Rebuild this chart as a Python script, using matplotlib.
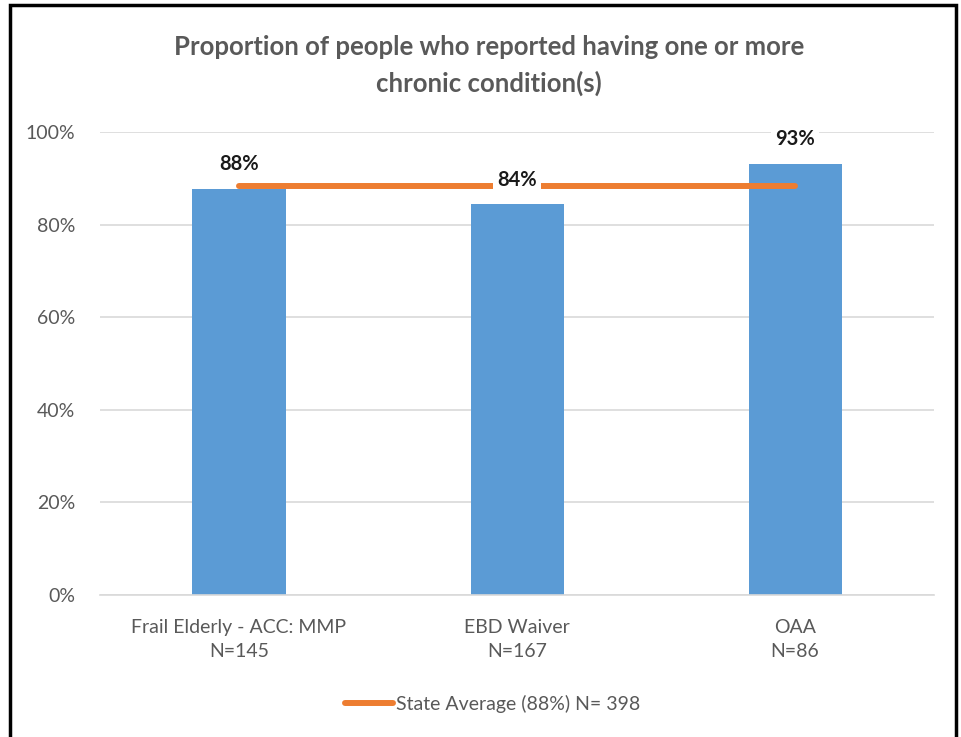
import matplotlib
matplotlib.use('Agg')
import matplotlib.pyplot as plt
from matplotlib.patches import Rectangle
from matplotlib.ticker import PercentFormatter

plt.rcParams['font.family'] = ['Lato', 'DejaVu Sans']

# ========== 数据 ==========
categories = ['Frail Elderly - ACC: MMP\nN=145', 'EBD Waiver\nN=167', 'OAA\nN=86']
values = [0.877, 0.844, 0.931]
labels = ['88%', '84%', '93%']
state_avg = [0.883, 0.883, 0.883]
legend_label = 'State Average (88%) N= 398'
title = 'Proportion of people who reported having one or more\nchronic condition(s)'

BLUE = '#5B9BD5'
ORANGE = '#ED7D31'
GRAY = '#595959'
GRID = '#D9D9D9'

fig = plt.figure(figsize=(9.62, 7.37), dpi=100)
ax = fig.add_axes([0.104, 0.1927, 0.867, 0.6282])

x = range(len(categories))
bars = ax.bar(x, values, width=0.335, color=BLUE, zorder=2)
ax.plot(x, state_avg, color=ORANGE, lw=4.3, solid_capstyle='round', zorder=3,
        label=legend_label)

# 数值标签（白底，挡住线/网格）
for xi, v, lab in zip(x, values, labels):
    ax.text(xi, v + 0.053, lab, ha='center', va='center', fontsize=14.5,
            fontweight='bold', color='#1a1a1a', zorder=4,
            bbox=dict(facecolor='white', edgecolor='none', pad=3))

ax.set_xlim(-0.5, 2.5)
ax.set_ylim(0, 1.0)
ax.set_yticks([0, 0.2, 0.4, 0.6, 0.8, 1.0])
ax.yaxis.set_major_formatter(PercentFormatter(1.0, decimals=0))
ax.set_xticks(list(x))
ax.set_xticklabels(categories, fontsize=14, color=GRAY, linespacing=1.55)
ax.tick_params(axis='y', labelsize=14, labelcolor=GRAY, length=0, pad=18)
ax.tick_params(axis='x', length=0, pad=17)
ax.grid(axis='y', color=GRID, lw=1.2, zorder=0)
ax.set_axisbelow(True)
for s in ['top', 'right', 'left']:
    ax.spines[s].set_visible(False)
ax.spines['bottom'].set_color(GRID)
ax.spines['bottom'].set_linewidth(1.2)

fig.text(0.508, 0.911, title, ha='center', va='center', fontsize=18.5,
         fontweight='bold', color=GRAY, linespacing=1.55)

leg = fig.legend(loc='center', bbox_to_anchor=(0.512, 0.045), frameon=False,
                 fontsize=14, handlelength=2.5, handletextpad=0.15)
for t in leg.get_texts():
    t.set_color(GRAY)

# 外框
fig.patches.append(Rectangle((10 / 962, -0.02), 946 / 962, 1 - 5 / 737 + 0.02,
                             transform=fig.transFigure, fill=False,
                             edgecolor='black', lw=2.5))

plt.savefig('out.png', dpi=100)
plt.close()
